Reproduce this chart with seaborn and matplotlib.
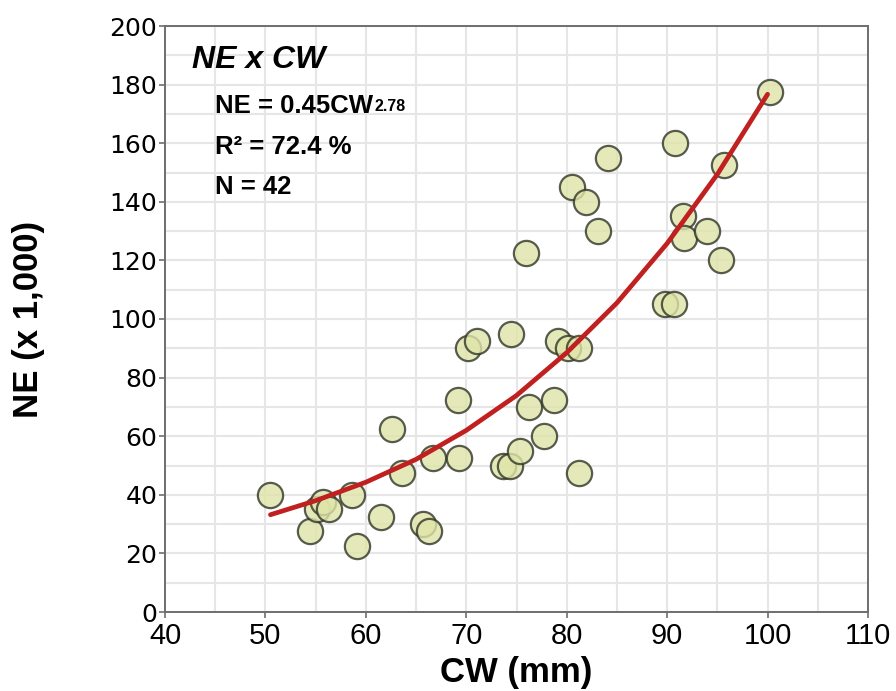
import numpy as np
import matplotlib
matplotlib.use("Agg")
import matplotlib.pyplot as plt
import pandas as pd
import seaborn as sns
from matplotlib.ticker import MultipleLocator

# carapace width (mm) and number of eggs (x 1,000)
cw = [50.5, 54.4, 55.1, 55.7, 56.3, 58.6, 59.1, 61.5, 62.6, 63.6, 65.7, 66.3,
      66.7, 69.2, 69.3, 70.2, 71.1, 73.7, 74.4, 74.5, 75.3, 75.9, 76.2, 77.7,
      78.7, 79.1, 80.1, 80.5, 81.2, 81.2, 81.9, 83.1, 84.1, 89.8, 90.7, 90.8,
      91.6, 91.7, 94.0, 95.4, 95.7, 100.2]
ne = [40, 27.5, 35, 37.5, 35, 40, 22.5, 32.5, 62.5, 47.5, 30, 27.5,
      52.5, 72.5, 52.5, 90, 92.5, 50, 50, 95, 55, 122.5, 70, 60,
      72.5, 92.5, 90, 145, 90, 47.5, 140, 130, 155, 105, 105, 160,
      135, 127.5, 130, 120, 152.5, 177.5]

# fitted curve
fit_cw = [50.5, 55, 60, 65, 70, 75, 80, 85, 90, 95, 100]
fit_ne = [33.2, 38.0, 44.3, 52.1, 62.0, 73.9, 88.5, 105.5, 125.8, 149.4, 176.7]

x_ticks = [40, 50, 60, 70, 80, 90, 100, 110]
y_ticks = [0, 20, 40, 60, 80, 100, 120, 140, 160, 180, 200]

title_text = "NE x CW"
eq_text = "NE = 0.45CW"
eq_exp = "2.78"
r2_text = "R\u00b2 = 72.4 %"
n_text = "N = 42"

sns.set_theme(style="whitegrid")
plt.rcParams["font.family"] = ["Liberation Sans", "DejaVu Sans"]
plt.rcParams["text.color"] = "black"
plt.rcParams["axes.labelcolor"] = "black"

df = pd.DataFrame({"CW": cw, "NE": ne})
fit = pd.DataFrame({"CW": fit_cw, "NE": fit_ne})

fig = plt.figure(figsize=(8.96, 6.91), dpi=100)
ax = fig.add_axes([165 / 896, 79 / 691, 703 / 896, 586 / 691])
ax.set_facecolor("white")
ax.set_axisbelow(True)

sns.scatterplot(data=df, x="CW", y="NE", ax=ax, s=330, color="#dfe4a8",
                edgecolor="#2f3526", linewidth=1.6, alpha=0.8, zorder=2)
sns.lineplot(data=fit, x="CW", y="NE", ax=ax, color="#c0201f", lw=3.4, zorder=3)

ax.set_xlim(40, 110)
ax.set_ylim(0, 200)
ax.set_xticks(x_ticks)
ax.set_yticks(y_ticks)
ax.xaxis.set_minor_locator(MultipleLocator(5))
ax.yaxis.set_minor_locator(MultipleLocator(10))
ax.grid(which="both", color="#e6e6e6", linewidth=1.5)

for s in ax.spines.values():
    s.set_visible(True)
    s.set_color("#6e6e6e")
    s.set_linewidth(1.4)

ax.tick_params(which="major", direction="out", length=4, width=1.2,
               color="#6e6e6e", left=True, bottom=True)
ax.tick_params(which="minor", length=0)
ax.tick_params(axis="y", pad=1.5)
ax.tick_params(axis="x", pad=3.5)
for lab in ax.get_yticklabels():
    lab.set_family(["DejaVu Sans"])
    lab.set_fontsize(18)
    lab.set_color("black")
for lab in ax.get_xticklabels():
    lab.set_family(["Liberation Sans", "DejaVu Sans"])
    lab.set_fontsize(21)
    lab.set_color("black")

ax.set_xlabel("CW (mm)", fontsize=25, fontweight="bold", color="black")
ax.set_ylabel("NE (x 1,000)", fontsize=25, fontweight="bold", color="black")
ax.xaxis.set_label_coords(0.5, -0.075)
ax.yaxis.set_label_coords(-0.17, 0.5)

ax.text(0.038, 0.928, title_text, transform=ax.transAxes, fontsize=23,
        fontweight="bold", fontstyle="italic", va="baseline")
t = ax.text(0.071, 0.852, eq_text, transform=ax.transAxes, fontsize=18.5,
            fontweight="bold", va="baseline")
ax.annotate(eq_exp, xy=(1, 1), xycoords=t, xytext=(1, -4),
            textcoords="offset points", fontsize=11.5, fontweight="bold",
            va="top", ha="left")
ax.text(0.071, 0.782, r2_text, transform=ax.transAxes, fontsize=18.5,
        fontweight="bold", va="baseline")
ax.text(0.071, 0.713, n_text, transform=ax.transAxes, fontsize=18.5,
        fontweight="bold", va="baseline")

fig.savefig("out.png", dpi=100)
